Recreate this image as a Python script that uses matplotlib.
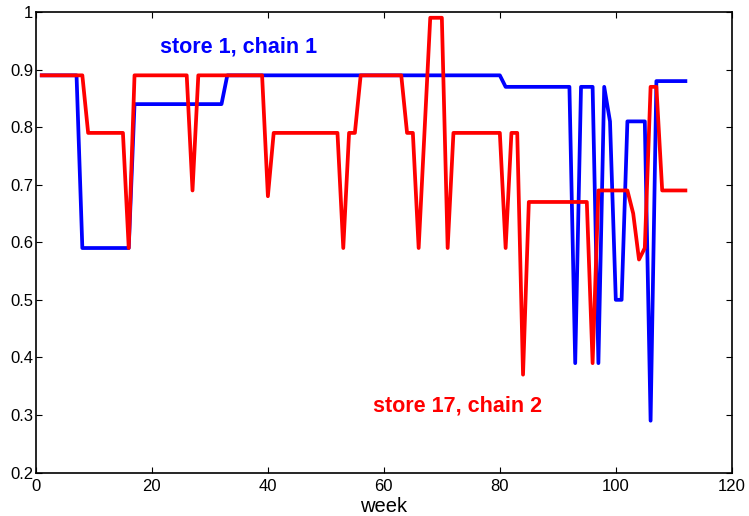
import numpy as np
import matplotlib
matplotlib.use("Agg")
import matplotlib.pyplot as plt

plt.rcParams["font.family"] = ["Liberation Sans", "DejaVu Sans"]

# weekly values, weeks 1..112
weeks = np.arange(1, 113)

store1_chain1 = [
    0.89, 0.89, 0.89, 0.89, 0.89, 0.89, 0.89,
    0.59, 0.59, 0.59, 0.59, 0.59, 0.59, 0.59, 0.59, 0.59,
    0.84, 0.84, 0.84, 0.84, 0.84, 0.84, 0.84, 0.84,
    0.84, 0.84, 0.84, 0.84, 0.84, 0.84, 0.84, 0.84,
    0.89, 0.89, 0.89, 0.89, 0.89, 0.89, 0.89, 0.89, 0.89, 0.89, 0.89, 0.89,
    0.89, 0.89, 0.89, 0.89, 0.89, 0.89, 0.89, 0.89, 0.89, 0.89, 0.89, 0.89,
    0.89, 0.89, 0.89, 0.89, 0.89, 0.89, 0.89, 0.89, 0.89, 0.89, 0.89, 0.89,
    0.89, 0.89, 0.89, 0.89, 0.89, 0.89, 0.89, 0.89, 0.89, 0.89, 0.89, 0.89,
    0.87, 0.87, 0.87, 0.87, 0.87, 0.87, 0.87, 0.87, 0.87, 0.87, 0.87, 0.87,
    0.39, 0.87, 0.87, 0.87, 0.39, 0.87, 0.81, 0.50, 0.50,
    0.81, 0.81, 0.81, 0.81, 0.29,
    0.88, 0.88, 0.88, 0.88, 0.88, 0.88,
]

store17_chain2 = [
    0.89, 0.89, 0.89, 0.89, 0.89, 0.89, 0.89, 0.89,
    0.79, 0.79, 0.79, 0.79, 0.79, 0.79, 0.79,
    0.59,
    0.89, 0.89, 0.89, 0.89, 0.89, 0.89, 0.89, 0.89, 0.89, 0.89,
    0.69,
    0.89, 0.89, 0.89, 0.89, 0.89, 0.89, 0.89, 0.89, 0.89, 0.89, 0.89, 0.89,
    0.68,
    0.79, 0.79, 0.79, 0.79, 0.79, 0.79, 0.79, 0.79, 0.79, 0.79, 0.79, 0.79,
    0.59, 0.79, 0.79,
    0.89, 0.89, 0.89, 0.89, 0.89, 0.89, 0.89, 0.89,
    0.79, 0.79, 0.59, 0.79, 0.99, 0.99, 0.99, 0.59,
    0.79, 0.79, 0.79, 0.79, 0.79, 0.79, 0.79, 0.79, 0.79,
    0.59, 0.79, 0.79, 0.37,
    0.67, 0.67, 0.67, 0.67, 0.67, 0.67, 0.67, 0.67, 0.67, 0.67, 0.67,
    0.39,
    0.69, 0.69, 0.69, 0.69, 0.69, 0.69,
    0.65, 0.57, 0.59, 0.87, 0.87,
    0.69, 0.69, 0.69, 0.69, 0.69,
]

fig = plt.figure(figsize=(7.49, 5.16), dpi=100)
ax = fig.add_axes([0.048, 0.0843, 0.929, 0.8924])

ax.plot(weeks, store1_chain1, "-", color="#0000ff", linewidth=2.7)
ax.plot(weeks, store17_chain2, "-", color="#ff0000", linewidth=2.7)

# labels placed inside the plot, like the original
ax.text(21.4, 0.94, "store 1, chain 1", color="#0000ff", fontsize=15.5,
        fontweight="bold", va="center", ha="left")
ax.text(58.1, 0.315, "store 17, chain 2", color="#ff0000", fontsize=15.5,
        fontweight="bold", va="center", ha="left")

ax.set_xlim(0, 120)
ax.set_ylim(0.2, 1.0)
ax.set_xticks([0, 20, 40, 60, 80, 100, 120])
ax.set_yticks([0.2, 0.3, 0.4, 0.5, 0.6, 0.7, 0.8, 0.9, 1.0])
ax.set_yticklabels(["0.2", "0.3", "0.4", "0.5", "0.6", "0.7", "0.8", "0.9", "1"])
ax.set_xlabel("week", fontsize=14.5, labelpad=2)

ax.tick_params(direction="in", top=True, right=True, length=4, width=0.8,
               labelsize=12)
ax.tick_params(axis="x", pad=5)
ax.tick_params(axis="y", pad=2)
for s in ax.spines.values():
    s.set_linewidth(1.2)

plt.savefig("out.png", dpi=100)
